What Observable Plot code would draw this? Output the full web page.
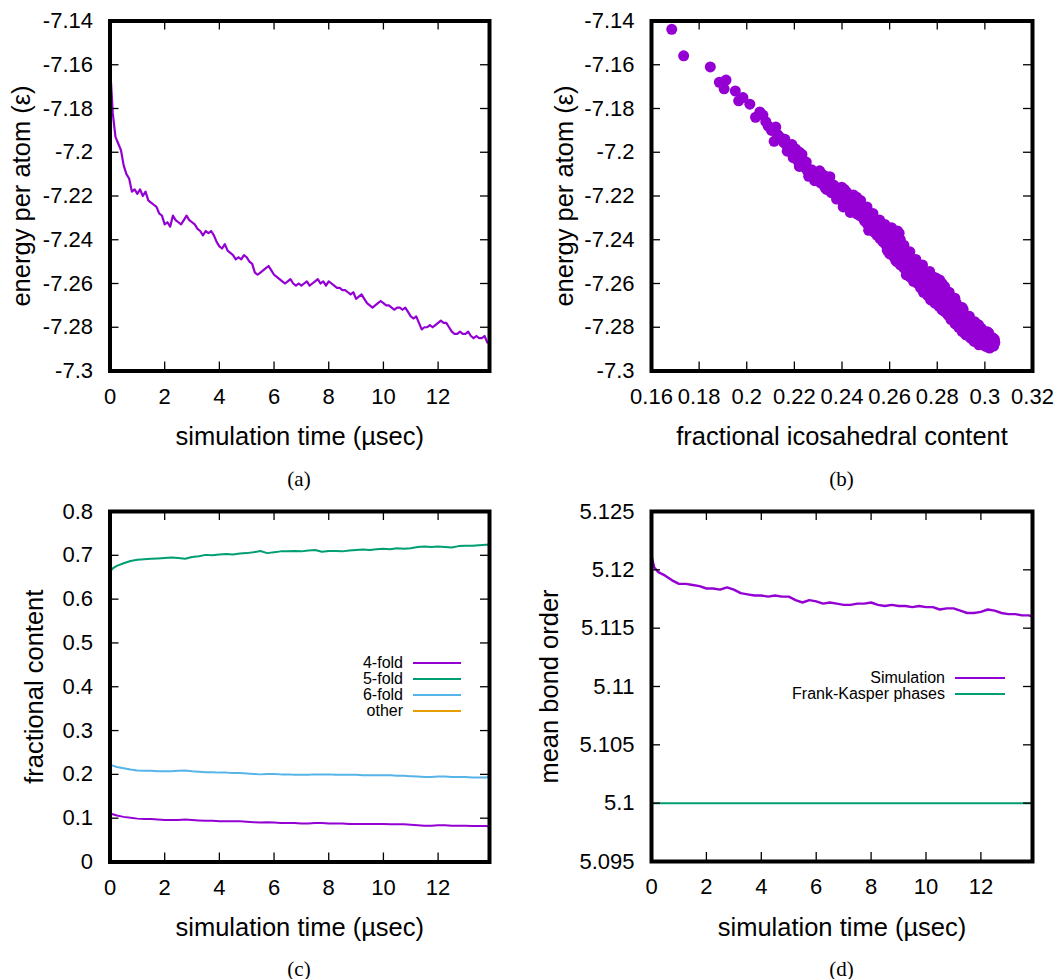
<!DOCTYPE html>
<html>
<head>
<meta charset="utf-8">
<script src="https://cdn.jsdelivr.net/npm/d3@7"></script>
<script src="https://cdn.jsdelivr.net/npm/@observablehq/plot@0.6"></script>
<style>
  body { margin: 0; background: #fff; }
  #wrap { position: relative; width: 1060px; height: 979px; font-family: "Liberation Sans", Arial, sans-serif; color: #000; overflow: hidden; }
  .panel { position: absolute; width: 530px; height: 460px; }
  .cap { position: absolute; font-family: "Liberation Serif", "DejaVu Serif", serif; font-size: 21px; transform: translate(-50%, -50%); white-space: nowrap; }
  .lg-text { position: absolute; font-size: 16px; line-height: 1; transform: translateY(-50%); white-space: nowrap; text-align: right; }
  .lg-line { position: absolute; height: 2px; }
  svg [aria-label="x-axis label"], svg [aria-label="y-axis label"] { font-size: 25.5px; }
</style>
</head>
<body>
<div id="wrap"></div>
<script>
// ---------- data ----------
const purple = "#9400d3", green = "#009e73", blue = "#56b4e9", orange = "#e69f00";

const captions = ["(a)", "(b)", "(c)", "(d)"];
const timeLabel = "simulation time (µsec)";
const energyLabel = "energy per atom (ε)";
const icoLabel = "fractional icosahedral content";
const fracLabel = "fractional content";
const bondLabel = "mean bond order";

const timeTicks = [0, 2, 4, 6, 8, 10, 12];
const energyTicks = [-7.3, -7.28, -7.26, -7.24, -7.22, -7.2, -7.18, -7.16, -7.14];
const icoTicks = [0.16, 0.18, 0.2, 0.22, 0.24, 0.26, 0.28, 0.3, 0.32];
const fracTicks = [0, 0.1, 0.2, 0.3, 0.4, 0.5, 0.6, 0.7, 0.8];
const bondTicks = [5.095, 5.1, 5.105, 5.11, 5.115, 5.12, 5.125];

// (a) energy vs time, sampled every 0.1 µsec
const timeA = d3.range(0, 13.85, 0.1);
const energy = [
  -7.160,-7.182,-7.193,-7.196,-7.199,-7.206,-7.210,-7.212,-7.218,-7.217,
  -7.219,-7.217,-7.220,-7.218,-7.222,-7.223,-7.224,-7.225,-7.228,-7.229,
  -7.233,-7.232,-7.234,-7.229,-7.231,-7.232,-7.233,-7.231,-7.229,-7.231,
  -7.232,-7.233,-7.235,-7.236,-7.238,-7.236,-7.237,-7.236,-7.238,-7.241,
  -7.243,-7.244,-7.242,-7.245,-7.246,-7.247,-7.249,-7.248,-7.249,-7.247,
  -7.248,-7.250,-7.251,-7.255,-7.256,-7.255,-7.254,-7.253,-7.252,-7.254,
  -7.256,-7.257,-7.258,-7.259,-7.260,-7.259,-7.258,-7.260,-7.261,-7.260,
  -7.261,-7.260,-7.259,-7.261,-7.260,-7.259,-7.258,-7.260,-7.259,-7.261,
  -7.259,-7.260,-7.261,-7.262,-7.262,-7.263,-7.263,-7.264,-7.265,-7.264,
  -7.267,-7.266,-7.265,-7.267,-7.269,-7.270,-7.271,-7.270,-7.269,-7.268,
  -7.269,-7.270,-7.270,-7.271,-7.272,-7.271,-7.271,-7.272,-7.271,-7.273,
  -7.275,-7.276,-7.275,-7.278,-7.281,-7.280,-7.280,-7.279,-7.280,-7.279,
  -7.278,-7.277,-7.278,-7.278,-7.280,-7.282,-7.283,-7.283,-7.282,-7.283,
  -7.283,-7.282,-7.284,-7.285,-7.284,-7.285,-7.285,-7.284,-7.287
];

// (b) energy vs fractional icosahedral content: [content, energy]
const icoPoints = [
  [0.1685,-7.1438],[0.1735,-7.1559],[0.1847,-7.1610],[0.1885,-7.1680],[0.1913,-7.1670],
  [0.1905,-7.1710],[0.1952,-7.1720],[0.1966,-7.1765],[0.1984,-7.1750],[0.2013,-7.1780],
  [0.2037,-7.1840],[0.2055,-7.1816],[0.2068,-7.1830],[0.2080,-7.1860],[0.2090,-7.1880],
  [0.2104,-7.1900],[0.2122,-7.1885],[0.2115,-7.1950],[0.2130,-7.1920],[0.2143,-7.1934],
  [0.2155,-7.1955],[0.2165,-7.1964],[0.2178,-7.1980],[0.2186,-7.1987],[0.2200,-7.2010],
  [0.2212,-7.1995],[0.2221,-7.2000],[0.2228,-7.2030],[0.2221,-7.2065],[0.2236,-7.2050],
  [0.2245,-7.2070],[0.2255,-7.2085],[0.2264,-7.2090],[0.2278,-7.2100],[0.2292,-7.2108],
  [0.2306,-7.2085],[0.2316,-7.2100],[0.2328,-7.2108],[0.2340,-7.2125],[0.2349,-7.2112],
  [0.2328,-7.2160],[0.2340,-7.2145],[0.2349,-7.2150],[0.2360,-7.2160],[0.2370,-7.2175],
  [0.2377,-7.2214],[0.2385,-7.2165],[0.2399,-7.2160],[0.2392,-7.2190],[0.2410,-7.2170],
  [0.2420,-7.2183],[0.2405,-7.2205],[0.2427,-7.2200],[0.2434,-7.2214],[0.2448,-7.2236],
  [0.2455,-7.2210],[0.2462,-7.2206],[0.2470,-7.2225],[0.2477,-7.2244],[0.2462,-7.2282],
  [0.2472,-7.2260],[0.2484,-7.2270],[0.2491,-7.2290],[0.2498,-7.2275],[0.2505,-7.2304],
  [0.2512,-7.2290],[0.2519,-7.2327],[0.2527,-7.2310],[0.2512,-7.2357],[0.2525,-7.2340],
  [0.2540,-7.2357],[0.2550,-7.2335],[0.2562,-7.2342],[0.2570,-7.2360],[0.2583,-7.2372],
  [0.2590,-7.2350],[0.2604,-7.2357],[0.2618,-7.2365],[0.2633,-7.2360],[0.2597,-7.2410],
  [0.2610,-7.2395],[0.2618,-7.2433],[0.2625,-7.2410],[0.2640,-7.2418],[0.2648,-7.2440],
  [0.2654,-7.2455],[0.2590,-7.2448],[0.2605,-7.2430],[0.2625,-7.2493],[0.2635,-7.2470],
  [0.2650,-7.2480],[0.2668,-7.2478],[0.2675,-7.2495],[0.2682,-7.2508],[0.2675,-7.2539],
  [0.2688,-7.2525],[0.2696,-7.2524],[0.2705,-7.2540],[0.2718,-7.2546],[0.2725,-7.2560],
  [0.2739,-7.2569],[0.2750,-7.2550],[0.2760,-7.2554],[0.2770,-7.2565],[0.2781,-7.2569],
  [0.2746,-7.2600],[0.2755,-7.2585],[0.2767,-7.2614],[0.2778,-7.2600],[0.2789,-7.2630],
  [0.2798,-7.2605],[0.2810,-7.2584],[0.2820,-7.2600],[0.2831,-7.2614],[0.2805,-7.2640],
  [0.2817,-7.2652],[0.2828,-7.2665],[0.2845,-7.2675],[0.2855,-7.2660],[0.2874,-7.2667],
  [0.2852,-7.2705],[0.2862,-7.2690],[0.2831,-7.2728],[0.2842,-7.2720],[0.2858,-7.2735],
  [0.2867,-7.2750],[0.2877,-7.2725],[0.2888,-7.2735],[0.2898,-7.2745],[0.2909,-7.2720],
  [0.2895,-7.2773],[0.2905,-7.2760],[0.2915,-7.2780],[0.2909,-7.2811],[0.2920,-7.2795],
  [0.2930,-7.2788],[0.2940,-7.2805],[0.2952,-7.2818],[0.2962,-7.2800],[0.2973,-7.2788],
  [0.2966,-7.2841],[0.2978,-7.2825],[0.2985,-7.2840],[0.2994,-7.2856],[0.3005,-7.2840],
  [0.3016,-7.2826],[0.3023,-7.2871],[0.3030,-7.2860],[0.3037,-7.2886],[0.3001,-7.2886],
  [0.3012,-7.2875],[0.3040,-7.2856],[0.3025,-7.2890],[0.3035,-7.2850],
  [0.2160,-7.1940],[0.2170,-7.1995],[0.2190,-7.1965],[0.2195,-7.2025],[0.2205,-7.1985],
  [0.2215,-7.2040],[0.2232,-7.2010],[0.2250,-7.2045],[0.2260,-7.2110],[0.2272,-7.2080],
  [0.2285,-7.2130],[0.2300,-7.2095],[0.2310,-7.2140],[0.2322,-7.2115],[0.2335,-7.2170],
  [0.2345,-7.2135],[0.2355,-7.2185],[0.2365,-7.2150],[0.2380,-7.2200],[0.2395,-7.2175],
  [0.2402,-7.2225],[0.2415,-7.2195],[0.2425,-7.2240],[0.2440,-7.2205],[0.2442,-7.2255],
  [0.2458,-7.2240],[0.2465,-7.2270],[0.2480,-7.2240],[0.2488,-7.2300],[0.2500,-7.2260],
  [0.2508,-7.2330],[0.2520,-7.2285],[0.2532,-7.2345],[0.2545,-7.2310],[0.2555,-7.2370],
  [0.2565,-7.2330],[0.2578,-7.2395],[0.2598,-7.2375],[0.2612,-7.2450],[0.2628,-7.2385],
  [0.2638,-7.2455],[0.2645,-7.2400],[0.2660,-7.2465],[0.2662,-7.2505],[0.2672,-7.2460],
  [0.2690,-7.2490],[0.2692,-7.2550],[0.2700,-7.2505],[0.2712,-7.2570],[0.2715,-7.2520],
  [0.2730,-7.2585],[0.2735,-7.2535],[0.2745,-7.2575],[0.2758,-7.2620],[0.2765,-7.2575],
  [0.2775,-7.2635],[0.2785,-7.2590],[0.2795,-7.2650],[0.2800,-7.2625],[0.2812,-7.2670],
  [0.2822,-7.2640],[0.2835,-7.2690],[0.2840,-7.2650],[0.2850,-7.2695],[0.2862,-7.2730],
  [0.2870,-7.2700],[0.2882,-7.2755],[0.2890,-7.2715],[0.2900,-7.2765],[0.2912,-7.2745],
  [0.2925,-7.2805],[0.2935,-7.2775],[0.2945,-7.2825],[0.2955,-7.2795],[0.2960,-7.2830],
  [0.2970,-7.2815],[0.2980,-7.2855],[0.2990,-7.2830],[0.2998,-7.2870],[0.3008,-7.2858],
  [0.3018,-7.2880],[0.3028,-7.2845],[0.3033,-7.2878],[0.3042,-7.2870],[0.3020,-7.2895],
  [0.3010,-7.2890],
  [0.2405,-7.2250],[0.2435,-7.2275],[0.2452,-7.2262],[0.2475,-7.2290],[0.2495,-7.2315],
  [0.2515,-7.2320],[0.2535,-7.2365],[0.2548,-7.2380],[0.2560,-7.2395],[0.2572,-7.2410],
  [0.2585,-7.2425],[0.2600,-7.2465],[0.2615,-7.2475],[0.2630,-7.2500],[0.2645,-7.2515],
  [0.2660,-7.2530],[0.2670,-7.2560],[0.2685,-7.2570],[0.2700,-7.2590],[0.2718,-7.2600],
  [0.2730,-7.2620],[0.2742,-7.2640],[0.2760,-7.2655],[0.2772,-7.2675],[0.2790,-7.2690],
  [0.2808,-7.2705],[0.2820,-7.2720],[0.2845,-7.2745],[0.2858,-7.2765],[0.2875,-7.2785],
  [0.2890,-7.2800],[0.2905,-7.2820],[0.2920,-7.2835],[0.2940,-7.2850],[0.2955,-7.2865],
  [0.2975,-7.2880],
  [0.2448,-7.2195],[0.2478,-7.2220],[0.2505,-7.2250],[0.2530,-7.2280],[0.2558,-7.2310],
  [0.2580,-7.2330],[0.2608,-7.2345],[0.2640,-7.2370],[0.2660,-7.2425],[0.2685,-7.2455],
  [0.2710,-7.2490],[0.2738,-7.2515],[0.2768,-7.2545],[0.2795,-7.2575],[0.2825,-7.2610],
  [0.2850,-7.2640],[0.2880,-7.2690],[0.2905,-7.2710],[0.2935,-7.2750],[0.2958,-7.2775],
  [0.2985,-7.2805],[0.3010,-7.2820],
  [0.2450,-7.2250],[0.2500,-7.2295],[0.2550,-7.2350],[0.2580,-7.2380],[0.2620,-7.2420],
  [0.2660,-7.2490],[0.2700,-7.2540],[0.2740,-7.2590],[0.2780,-7.2620],[0.2820,-7.2660],
  [0.2860,-7.2710],[0.2900,-7.2790],[0.2950,-7.2845],[0.3000,-7.2860]
];

// (c) and (d) time grid
const timeC = [0, 0.1, ...d3.range(0.25, 13.76, 0.25), 13.85];
const foldNames = ["4-fold", "5-fold", "6-fold", "other"];
const foldColors = [purple, green, blue, orange];
const fold4 = [
  0.111,0.109,
  0.106,0.103,0.101,0.099, 0.098,0.098,0.097,0.096, 0.096,0.096,0.097,0.096,
  0.095,0.094,0.094,0.093, 0.093,0.093,0.093,0.092, 0.091,0.090,0.091,0.090,
  0.089,0.089,0.089,0.088, 0.088,0.089,0.089,0.088, 0.088,0.088,0.087,0.087,
  0.087,0.087,0.087,0.087, 0.086,0.086,0.086,0.085, 0.084,0.083,0.083,0.084,
  0.084,0.083,0.083,0.083, 0.082,0.082,0.082,
  0.081
];
const fold5 = [
  0.662,0.670,
  0.676,0.682,0.687,0.690, 0.691,0.692,0.693,0.694, 0.695,0.694,0.692,0.696,
  0.698,0.701,0.700,0.702, 0.703,0.702,0.704,0.705, 0.707,0.710,0.705,0.707,
  0.709,0.709,0.710,0.709, 0.711,0.712,0.708,0.710, 0.710,0.709,0.711,0.712,
  0.713,0.712,0.714,0.715, 0.714,0.716,0.715,0.716, 0.719,0.720,0.719,0.720,
  0.719,0.718,0.721,0.722, 0.722,0.723,0.724,
  0.724
];
const fold6 = [
  0.222,0.220,
  0.217,0.214,0.211,0.209, 0.208,0.208,0.207,0.207, 0.207,0.208,0.209,0.207,
  0.206,0.205,0.205,0.204, 0.204,0.203,0.203,0.202, 0.201,0.200,0.201,0.201,
  0.200,0.200,0.199,0.199, 0.199,0.200,0.200,0.200, 0.199,0.199,0.199,0.199,
  0.198,0.198,0.198,0.198, 0.198,0.197,0.197,0.196, 0.195,0.194,0.194,0.195,
  0.195,0.194,0.194,0.194, 0.193,0.193,0.193,
  0.194
];
const otherTime = [0, 2, 4, 6, 8, 10, 12, 13.85];
const otherFold = [0.002, 0.0015, 0.0014, 0.0013, 0.0012, 0.0012, 0.0011, 0.0011];

// (d) mean bond order
const bondNames = ["Simulation", "Frank-Kasper phases"];
const bondColors = [purple, green];
const bondOrder = [
  5.1212,5.1202,
  5.1198,5.1195,5.1191,5.1188, 5.1188,5.1187,5.1186,5.1184, 5.1184,5.1183,5.1185,5.1183,
  5.1180,5.1179,5.1178,5.1178, 5.1177,5.1178,5.1177,5.1177, 5.1174,5.1172,5.1174,5.1173,
  5.1171,5.1172,5.1171,5.1170, 5.1170,5.1171,5.1171,5.1172, 5.1170,5.1169,5.1170,5.1169,
  5.1169,5.1168,5.1169,5.1168, 5.1168,5.1166,5.1167,5.1167, 5.1165,5.1163,5.1163,5.1164,
  5.1166,5.1165,5.1163,5.1162, 5.1162,5.1161,5.1161,
  5.1160
];
const frankKasper = 5.1;

// ---------- drawing ----------
const fmt = d => String(+(+d).toFixed(4));
const timeDomain = [0, 13.88];
const W = 530, H = 460, TICK = 9;

function panel({xDomain, yDomain, xTicks, yTicks, xLabel, yLabel, xLabelOffset, yLabelOffset, ml, mr, mt, mb, marks}) {
  const iw = W - ml - mr, ih = H - mt - mb;
  const tickStyle = {stroke: "#000", strokeWidth: 1.3};
  return Plot.plot({
    width: W, height: H,
    marginLeft: ml, marginRight: mr, marginTop: mt, marginBottom: mb,
    x: {domain: xDomain},
    y: {domain: yDomain},
    style: {fontFamily: '"Liberation Sans", Arial, sans-serif', fontSize: "22px", color: "#000", background: "transparent", overflow: "visible"},
    marks: [
      ...marks,
      // inward ticks on all four sides (gnuplot style, mirrored)
      Plot.tickX(xTicks, {x: d => d, insetTop: ih - TICK, ...tickStyle}),
      Plot.tickX(xTicks, {x: d => d, insetBottom: ih - TICK, ...tickStyle}),
      Plot.tickY(yTicks, {y: d => d, insetRight: iw - TICK, ...tickStyle}),
      Plot.tickY(yTicks, {y: d => d, insetLeft: iw - TICK, ...tickStyle}),
      Plot.axisX(xTicks, {anchor: "bottom", tickSize: 0, tickPadding: 17, tickFormat: fmt, label: xLabel, labelAnchor: "center", labelArrow: "none", labelOffset: xLabelOffset}),
      Plot.axisY(yTicks, {anchor: "left", tickSize: 0, tickPadding: 17, tickFormat: fmt, label: yLabel, labelAnchor: "center", labelArrow: "none", labelOffset: yLabelOffset}),
      Plot.frame({stroke: "#000", strokeWidth: 4})
    ]
  });
}

const wrap = document.getElementById("wrap");
function place(el, left, top) {
  const d = document.createElement("div");
  d.className = "panel";
  d.style.left = left + "px";
  d.style.top = top + "px";
  d.appendChild(el);
  wrap.appendChild(d);
}
function caption(text, cx, cy) {
  const d = document.createElement("div");
  d.className = "cap";
  d.style.left = cx + "px";
  d.style.top = cy + "px";
  d.textContent = text;
  wrap.appendChild(d);
}
function legend(names, colors, textRight, lineLeft, lineWidth, firstRow, rowStep) {
  names.forEach((name, i) => {
    const cy = firstRow + i * rowStep;
    const t = document.createElement("div");
    t.className = "lg-text";
    t.style.right = (1060 - textRight) + "px";
    t.style.top = cy + "px";
    t.textContent = name;
    wrap.appendChild(t);
    const l = document.createElement("div");
    l.className = "lg-line";
    l.style.left = lineLeft + "px";
    l.style.width = lineWidth + "px";
    l.style.top = (cy - 1) + "px";
    l.style.background = colors[i];
    wrap.appendChild(l);
  });
}

// (a)
const dataA = timeA.map((t, i) => ({t, e: energy[i]}));
place(panel({
  xDomain: timeDomain, yDomain: [-7.3, -7.14], xTicks: timeTicks, yTicks: energyTicks,
  xLabel: timeLabel, yLabel: energyLabel, xLabelOffset: 73.5, yLabelOffset: 98,
  ml: 109.5, mr: 41, mt: 20.5, mb: 89.5,
  marks: [Plot.line(dataA, {x: "t", y: "e", stroke: purple, strokeWidth: 2.2})]
}), 0, 0);

// (b)
const dataB = icoPoints.map(([c, e]) => ({c, e}));
place(panel({
  xDomain: [0.16, 0.32], yDomain: [-7.3, -7.14], xTicks: icoTicks, yTicks: energyTicks,
  xLabel: icoLabel, yLabel: energyLabel, xLabelOffset: 73.5, yLabelOffset: 97,
  ml: 121, mr: 28, mt: 20.5, mb: 89.5,
  marks: [Plot.dot(dataB, {x: "c", y: "e", r: 5.5, fill: purple, stroke: "none"})]
}), 530, 0);

// (c)
const foldSeries = [fold4, fold5, fold6];
const dataC = [];
foldSeries.forEach((arr, k) => timeC.forEach((t, i) => dataC.push({t, v: arr[i], s: foldNames[k]})));
otherTime.forEach((t, i) => dataC.push({t, v: otherFold[i], s: foldNames[3]}));
place(panel({
  xDomain: timeDomain, yDomain: [0, 0.8], xTicks: timeTicks, yTicks: fracTicks,
  xLabel: timeLabel, yLabel: fracLabel, xLabelOffset: 74, yLabelOffset: 85.5,
  ml: 109.5, mr: 41, mt: 21, mb: 88.5,
  marks: [
    Plot.line(dataC, {x: "t", y: "v", z: "s", stroke: d => foldColors[foldNames.indexOf(d.s)], strokeWidth: 2})
  ]
}), 0, 490);

// (d)
const dataD = timeC.map((t, i) => ({t, b: bondOrder[i]}));
place(panel({
  xDomain: timeDomain, yDomain: [5.095, 5.125], xTicks: timeTicks, yTicks: bondTicks,
  xLabel: timeLabel, yLabel: bondLabel, xLabelOffset: 74, yLabelOffset: 112,
  ml: 121, mr: 28, mt: 21, mb: 89,
  marks: [
    Plot.ruleY([frankKasper], {stroke: green, strokeWidth: 2}),
    Plot.line(dataD, {x: "t", y: "b", stroke: purple, strokeWidth: 2.4})
  ]
}), 530, 490);

caption(captions[0], 299, 479);
caption(captions[1], 841.5, 479);
caption(captions[2], 299, 969);
caption(captions[3], 841.5, 969);

legend(foldNames, foldColors, 403, 413, 48, 663, 16);
legend(bondNames, bondColors, 945, 955, 50, 678, 16);
</script>
</body>
</html>
